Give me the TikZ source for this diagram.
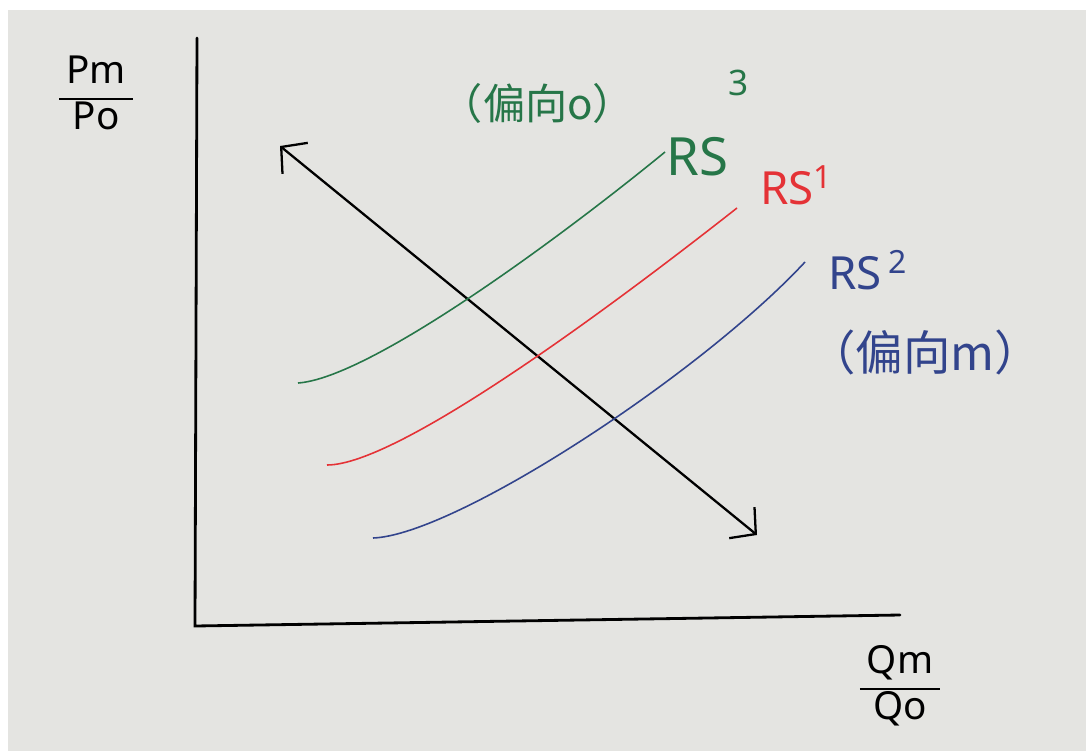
\documentclass[tikz,border=0pt]{standalone}
\usepackage{fontspec}
\setmainfont{Noto Sans}
\newfontfamily\cjk{Noto Sans CJK SC}
\usetikzlibrary{positioning, arrows.meta}
\definecolor{paper}{RGB}{228,228,225}
\definecolor{rsgreen}{RGB}{38,118,72}
\definecolor{rsred}{RGB}{228,50,54}
\definecolor{rsblue}{RGB}{50,68,140}
\setlength{\arrayrulewidth}{1.4pt}

\begin{document}
\begin{tikzpicture}[
  x=0.02cm, y=-0.02cm, font=\small,
  axis/.style={line width=1.6pt, line cap=round},
  curve/.style={line width=0.9pt},
  barb/.style={line width=1.3pt, line cap=round,
    {Straight Barb[length=0.36cm, width=0.8cm, line width=1.3pt]}-{Straight Barb[length=0.36cm, width=0.8cm, line width=1.3pt]}},
  lbl/.style={inner sep=0pt, anchor=base west, font=\fontsize{26}{28}\selectfont},
  note/.style={inner sep=0pt, font=\cjk\fontsize{24}{26}\selectfont},
  ratio/.style={inner sep=0pt, font=\fontsize{22}{24}\selectfont}
]
\fill[white] (0,0) rectangle (1086,751);
\fill[paper] (8,10) rectangle (1086,751);
\useasboundingbox (0,0) rectangle (1086,751);

% axes
\coordinate (O) at (195,626);
\coordinate (ytip) at (197,38);
\coordinate (xtip) at (900,615);
\draw[axis] (ytip) -- (O) -- (xtip);

\node[ratio] (yname) at (96,98) {\begin{tabular}{@{\hspace{4pt}}c@{\hspace{4pt}}}Pm\\[1pt]\hline Po\end{tabular}};
\node[ratio] (xname) at (900,688) {\begin{tabular}{@{\hspace{4pt}}c@{\hspace{4pt}}}Qm\\[1pt]\hline Qo\end{tabular}};

% double arrow
\coordinate (dtop) at (280,146);
\coordinate (dbot) at (757,535);
\draw[barb] (dtop) -- (dbot);

% curves
\coordinate (g0) at (298,383);
\coordinate (g1) at (665,152);
\coordinate (r0) at (327,465);
\coordinate (r1) at (737,208);
\coordinate (b0) at (373,538);
\coordinate (b1) at (805,262);
\draw[curve, rsgreen] (g0) .. controls (370,378) and (560,238) .. (g1);
\draw[curve, rsred] (r0) .. controls (400,465) and (620,300) .. (r1);
\draw[curve, rsblue] (b0) .. controls (455,535) and (700,375) .. (b1);

% labels
\node[lbl, rsgreen, font=\fontsize{30}{32}\selectfont] (rs3) at (666,175) {RS\raisebox{1.5em}{\fontsize{20}{20}\selectfont 3}};
\node[lbl, rsred] (rs1) at (760,204) {RS\textsuperscript{1}};
\node[lbl, rsblue] (rs2) at (828,289) {RS\hspace{4pt}\textsuperscript{2}};
\node[note, rsgreen] (bias0) at (538,103) {（偏向o）};
\node[note, rsblue, font=\cjk\fontsize{27}{28}\selectfont] (biasm) at (925,352) {（偏向m）};

\end{tikzpicture}
\end{document}
